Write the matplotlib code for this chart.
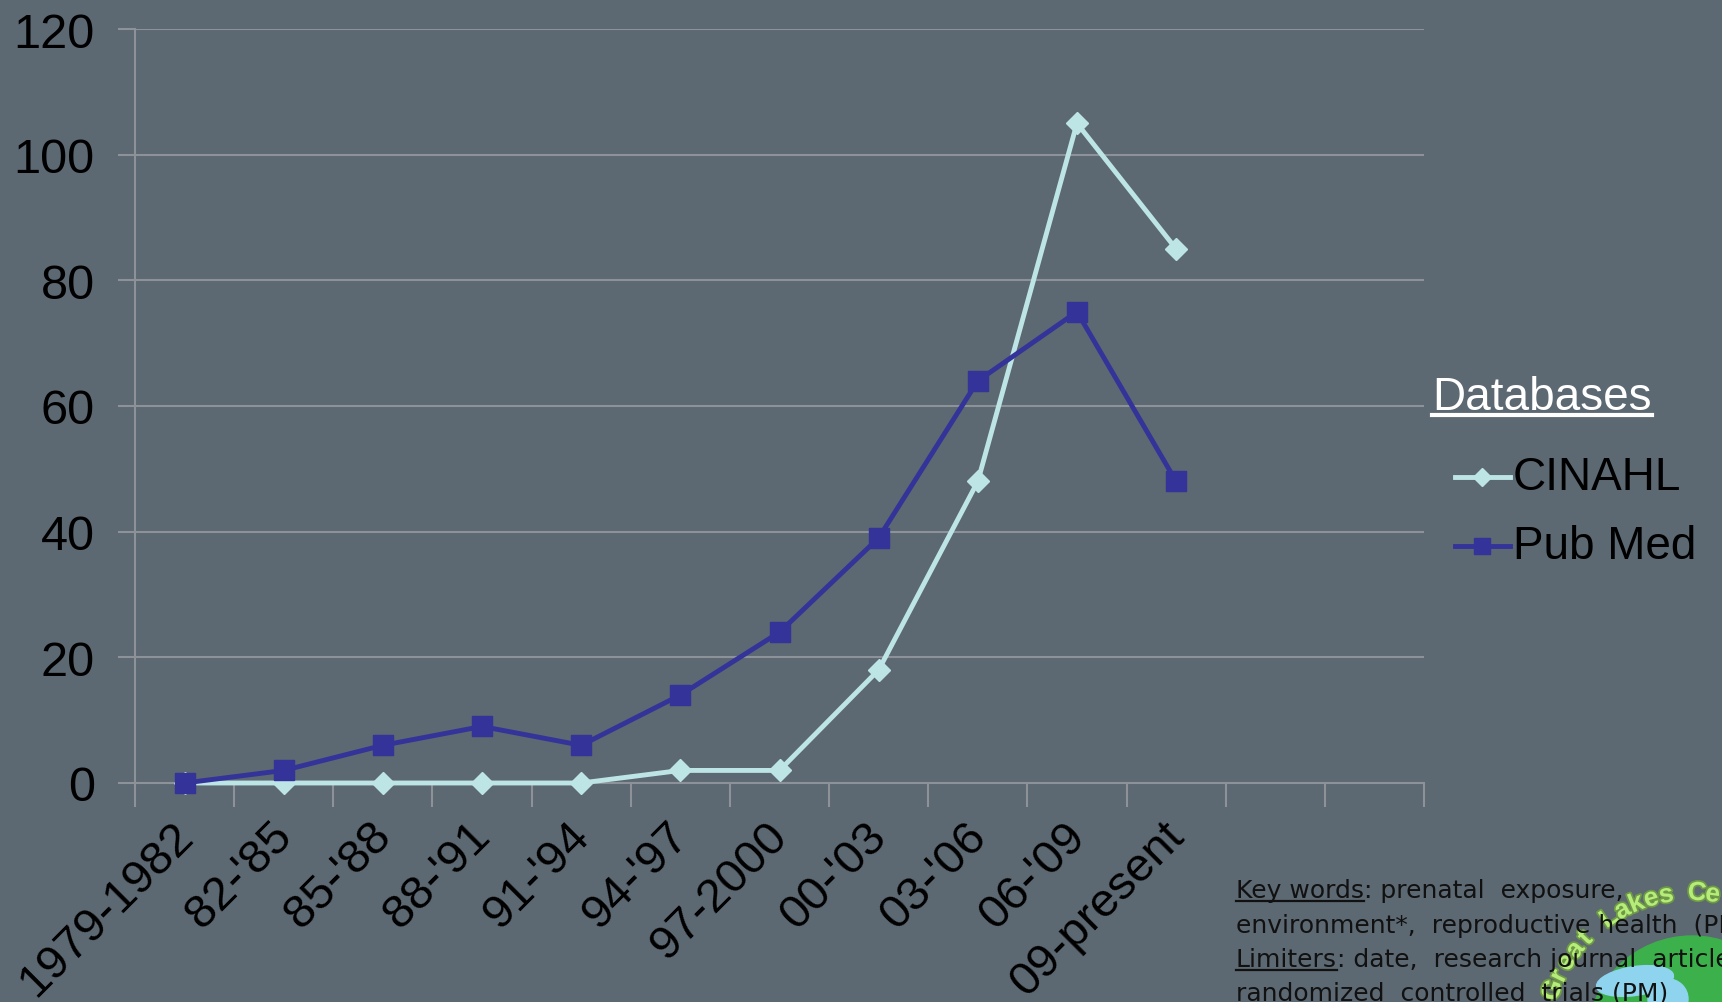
import numpy as np
import matplotlib
matplotlib.use("Agg")
import matplotlib.pyplot as plt
import matplotlib.patheffects as pe
import matplotlib.transforms as mtransforms
from matplotlib.lines import Line2D
from matplotlib.patches import Ellipse

plt.rcParams['font.family'] = ['Liberation Sans', 'DejaVu Sans']

# data
periods = ["1979-1982", "82-'85", "85-'88", "88-'91", "91-'94", "94-'97",
           "97-2000", "00-'03", "03-'06", "06-'09", "09-present", "", ""]
cinahl = [0, 0, 0, 0, 0, 2, 2, 18, 48, 105, 85]
pubmed = [0, 2, 6, 9, 6, 14, 24, 39, 64, 75, 48]
y_ticks = [0, 20, 40, 60, 80, 100, 120]

BG = '#5c6872'
GRID = '#8c9298'
C_CIN = '#bde5e6'
C_PUB = '#333399'
W, H = 1722, 1003


def px(x, y):
    """pixel position (from top-left) -> figure fraction"""
    return x / W, 1 - y / H


def underlined(fig, x, y, s, ul_lw=2, ul_off=2, **kw):
    t = fig.text(*px(x, y), s, **kw)
    r = fig.canvas.get_renderer()
    bb = t.get_window_extent(renderer=r)
    # baseline sits at the given y (va defaults to baseline)
    yl = (H - y - ul_off) / H
    fig.add_artist(Line2D([bb.x0 / W, bb.x1 / W], [yl, yl],
                          transform=fig.transFigure, color=kw.get('color', 'k'), lw=ul_lw))
    return t, bb


fig = plt.figure(figsize=(W / 100, H / 100), dpi=100, facecolor=BG)
ax = fig.add_axes([135 / W, 1 - 784 / H, (1424 - 135) / W, (784 - 30) / H])
ax.set_facecolor(BG)

x = np.arange(len(cinahl))
ax.plot(x, cinahl, color=C_CIN, lw=3.5, marker='D', ms=11, mec=C_CIN, zorder=3,
        clip_on=False)
ax.plot(x, pubmed, color=C_PUB, lw=3.5, marker='s', ms=15, mec=C_PUB, zorder=4,
        clip_on=False)

ax.set_xlim(-0.5, len(periods) - 0.5)
ax.set_ylim(0, 120)
ax.set_yticks(y_ticks)
ax.set_yticklabels([str(v) for v in y_ticks], fontsize=35, color='black')
ax.tick_params(axis='y', length=12, color=GRID, width=1.5, pad=17)
ax.grid(axis='y', color=GRID, lw=1.5)
ax.set_axisbelow(True)

ax.set_xticks(np.arange(len(periods) + 1) - 0.5, minor=True)
ax.set_xticks(np.arange(len(periods)))
ax.set_xticklabels(periods, fontsize=34, rotation=45, ha='right',
                   rotation_mode='anchor', color='black')
ax.tick_params(axis='x', which='major', length=0, pad=22)
ax.tick_params(axis='x', which='minor', length=17, color=GRID, width=1.5)
shift = mtransforms.ScaledTranslation(-14 / 100, 0, fig.dpi_scale_trans)
for lab in ax.get_xticklabels():
    lab.set_transform(lab.get_transform() + shift)

for s in ['top', 'right']:
    ax.spines[s].set_visible(False)
for s in ['left', 'bottom']:
    ax.spines[s].set_color(GRID)
    ax.spines[s].set_linewidth(1.5)
ax.spines['bottom'].set_zorder(2)

# legend (drawn by hand like the slide)
underlined(fig, 1432, 410, 'Databases', ul_lw=3, ul_off=6, fontsize=33, color='white')
for yy, col, mk, ms, name in [(478, C_CIN, 'D', 11, 'CINAHL'),
                              (547, C_PUB, 's', 15, 'Pub Med')]:
    fig.add_artist(Line2D([1455 / W, 1510 / W], [1 - yy / H] * 2, transform=fig.transFigure,
                          color=col, lw=3.5))
    fig.add_artist(Line2D([1482 / W], [1 - yy / H], transform=fig.transFigure,
                          color=col, marker=mk, ms=ms * 0.8, mec=col, lw=0))
    fig.text(*px(1513, yy), name, fontsize=33, color='black', va='center')

# logo in the corner
logo_c = (1692, 1042)
fig.add_artist(Ellipse(px(*logo_c), 210 / W, 210 / H, transform=fig.transFigure,
                       color='#3cb04a', zorder=1))
fig.add_artist(Ellipse(px(1635, 982), 80 / W, 28 / H, angle=20, transform=fig.transFigure,
                       color='#8fd4ef', zorder=1))
fig.add_artist(Ellipse(px(1668, 1000), 40 / W, 40 / H, transform=fig.transFigure,
                       color='#8fd4ef', zorder=1))
logo_txt = "Great Lakes Ce"
for i, ch in enumerate(logo_txt):
    ang = np.deg2rad(160 - i * 6.0)
    cx = logo_c[0] + 148 * np.cos(ang)
    cy = logo_c[1] - 148 * np.sin(ang)
    fig.text(*px(cx, cy), ch, fontsize=19, color='#b5ec7a', ha='center', va='center',
             rotation=np.rad2deg(ang) - 90, fontweight='bold', zorder=2,
             path_effects=[pe.withStroke(linewidth=2.5, foreground='#6f9a45')])

# key words note
note_kw = dict(fontsize=18, color='#111111', zorder=3, family='DejaVu Sans')
_, bb = underlined(fig, 1236, 898, 'Key words', ul_lw=1.6, ul_off=4, **note_kw)
fig.text(bb.x1 / W, 1 - 898 / H, ': prenatal  exposure,', **note_kw)
fig.text(*px(1236, 933), 'environment*,  reproductive health  (PM),', **note_kw)
_, bb = underlined(fig, 1236, 967, 'Limiters', ul_lw=1.6, ul_off=4, **note_kw)
fig.text(bb.x1 / W, 1 - 967 / H, ': date,  research journal  articles,', **note_kw)
fig.text(*px(1236, 1001), 'randomized  controlled  trials (PM)', **note_kw)

fig.savefig('out.png', dpi=100, facecolor=BG)
